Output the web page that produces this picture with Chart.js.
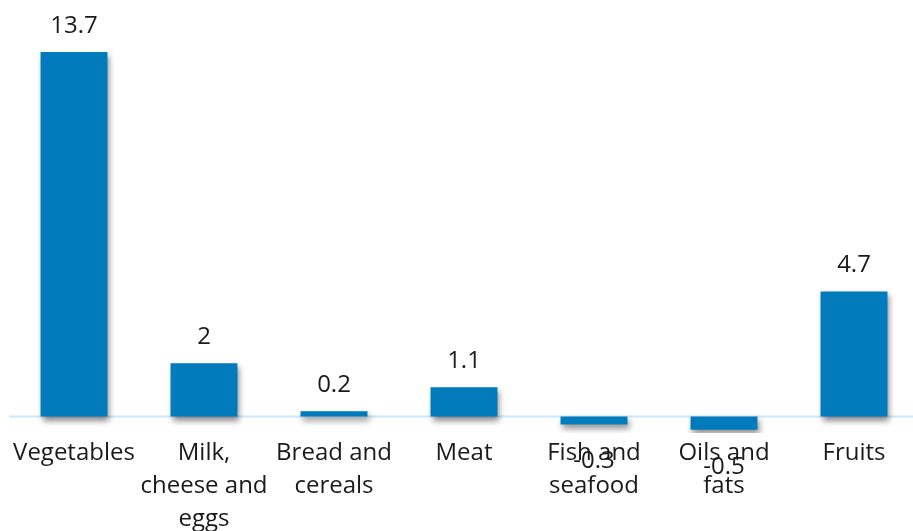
<!DOCTYPE html>
<html>
<head>
<meta charset="utf-8">
<script src="https://cdn.jsdelivr.net/npm/chart.js@4/dist/chart.umd.min.js"></script>
<style>
  html, body { margin: 0; padding: 0; background: #fff; overflow: hidden; }
  #wrap { width: 919px; height: 540px; position: relative; }
</style>
</head>
<body>
<div id="wrap"><canvas id="chart"></canvas></div>
<script>
const categories = ['Vegetables', ['Milk,', 'cheese and', 'eggs'], ['Bread and', 'cereals'], 'Meat', ['Fish and', 'seafood'], ['Oils and', 'fats'], 'Fruits'];
const values = [13.7, 2, 0.2, 1.1, -0.3, -0.5, 4.7];

const barColor = '#027bbd';
const fontFamily = '"Open Sans", sans-serif';

// shadow under the bars
const shadowPlugin = {
    id: 'shadow',
    beforeDatasetsDraw(chart) {
        const ctx = chart.ctx;
        ctx.save();
        ctx.shadowColor = 'rgba(0, 0, 0, 0.45)';
        ctx.shadowBlur = 6;
        ctx.shadowOffsetX = 2;
        ctx.shadowOffsetY = 4;
    },
    afterDatasetsDraw(chart) {
        chart.ctx.restore();
    }
};

// light blue zero line
const baselinePlugin = {
    id: 'baseline',
    beforeDatasetsDraw(chart) {
        const ctx = chart.ctx;
        const y = chart.scales.y.getPixelForValue(0);
        ctx.save();
        ctx.strokeStyle = '#cde8f7';
        ctx.lineWidth = 2;
        ctx.beginPath();
        ctx.moveTo(chart.chartArea.left, y);
        ctx.lineTo(chart.chartArea.right, y);
        ctx.stroke();
        ctx.restore();
    }
};

// value labels
const labelPlugin = {
    id: 'valueLabels',
    afterDatasetsDraw(chart) {
        const ctx = chart.ctx;
        const meta = chart.getDatasetMeta(0);
        ctx.save();
        ctx.font = '24px ' + fontFamily;
        ctx.fillStyle = '#1a1a1a';
        ctx.textAlign = 'center';
        ctx.textBaseline = 'alphabetic';
        meta.data.forEach((bar, i) => {
            const v = values[i];
            const y = v >= 0 ? bar.y - 19 : bar.y + 44;
            ctx.fillText(String(v), bar.x, y);
        });
        ctx.restore();
    }
};

new Chart(document.getElementById('chart'), {
    type: 'bar',
    data: {
        labels: categories,
        datasets: [{
            data: values,
            backgroundColor: barColor,
            borderWidth: 0,
            barPercentage: 1,
            categoryPercentage: 0.515
        }]
    },
    options: {
        responsive: true,
        maintainAspectRatio: false,
        animation: false,
        layout: { padding: { top: 17.5, left: 9, right: 0, bottom: 0 } },
        plugins: {
            legend: { display: false },
            tooltip: { enabled: false }
        },
        scales: {
            x: {
                grid: { display: false, drawTicks: false },
                border: { display: false },
                ticks: {
                    color: '#1a1a1a',
                    padding: 4,
                    maxRotation: 0,
                    autoSkip: false,
                    font: { family: fontFamily, size: 24, lineHeight: 1.375 }
                }
            },
            y: {
                display: false,
                min: -0.62,
                max: 15
            }
        }
    },
    plugins: [baselinePlugin, shadowPlugin, labelPlugin]
});
</script>
</body>
</html>
